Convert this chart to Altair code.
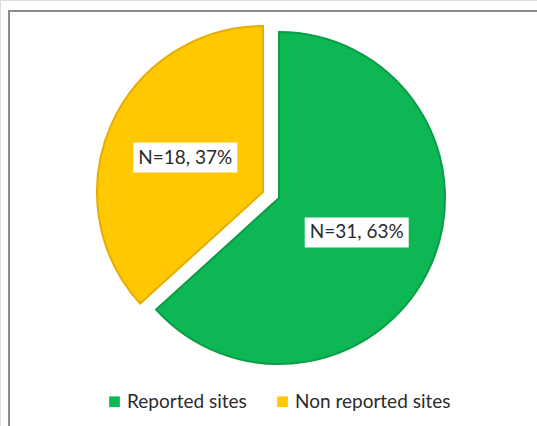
import altair as alt
import pandas as pd

categories = ["Reported sites", "Non reported sites"]
counts = [31, 18]
labels = ["N=31, 63%", "N=18, 37%"]
colors = ["#0DB754", "#FFC800"]
strokes = ["#0A9C47", "#E5AE00"]

df = pd.DataFrame({"cat": categories, "count": counts, "label": labels, "order": [0, 1]})

W, H = 537, 426
R = 166
LR = 85
centers = {"Reported sites": (279, 198), "Non reported sites": (263, 192)}

color_scale = alt.Scale(domain=categories, range=colors)

base = alt.Chart(df).transform_joinaggregate(
    total="sum(count)"
).transform_window(
    cum="sum(count)", sort=[alt.SortField("order", order="ascending")]
).transform_calculate(
    start="(datum.cum - datum.count) / datum.total",
    end="datum.cum / datum.total",
    mid="(datum.cum - datum.count / 2) / datum.total",
)

layers = []
for i, cat in enumerate(categories):
    cx, cy = centers[cat]
    sub = base.transform_filter(alt.datum.cat == cat)
    arc = sub.mark_arc(outerRadius=R, stroke=strokes[i], strokeWidth=2).encode(
        theta=alt.Theta("start:Q", scale=alt.Scale(domain=[0, 1], range=[0, 6.283185307])),
        theta2="end:Q",
        x=alt.value(cx),
        y=alt.value(cy),
        color=alt.Color(
            "cat:N",
            scale=color_scale,
            legend=alt.Legend(
                title=None,
                orient="none",
                direction="horizontal",
                legendX=105,
                legendY=392,
                symbolType="square",
                symbolSize=115,
                symbolStrokeWidth=0,
                labelFont="Lato",
                labelFontSize=19,
                labelColor="#2b2b2b",
                columnPadding=26,
                symbolOffset=0,
                labelOffset=3,
            ) if i == 0 else None,
        ),
    )
    pos = sub.transform_calculate(
        px=f"{cx} + {LR} * sin(datum.mid * 2 * PI)",
        py=f"{cy} - {LR} * cos(datum.mid * 2 * PI)",
        px1=f"{cx} + {LR} * sin(datum.mid * 2 * PI) - 52",
        px2=f"{cx} + {LR} * sin(datum.mid * 2 * PI) + 52",
        py1=f"{cy} - {LR} * cos(datum.mid * 2 * PI) - 15",
        py2=f"{cy} - {LR} * cos(datum.mid * 2 * PI) + 15",
    )
    box = pos.mark_rect(color="white").encode(
        x=alt.X("px1:Q", scale=None, axis=None),
        x2="px2:Q",
        y=alt.Y("py1:Q", scale=None, axis=None),
        y2="py2:Q",
    )
    txt = pos.mark_text(font="Lato", fontSize=19, color="#2b2b2b").encode(
        x=alt.X("px:Q", scale=None, axis=None),
        y=alt.Y("py:Q", scale=None, axis=None),
        text="label:N",
    )
    layers += [arc, box, txt]

border = alt.Chart(df).mark_rect(fill=None, stroke="#8c8c8c", strokeWidth=2).encode(
    x=alt.value(9), x2=alt.value(560), y=alt.value(11), y2=alt.value(460)
)

chart = alt.layer(border, *layers).properties(
    width=W, height=H, autosize=alt.AutoSizeParams(type="none"), padding=0
).configure_view(stroke=None).configure(background="white")

chart.save("out.html", embed_options={"renderer": "svg", "actions": False})
